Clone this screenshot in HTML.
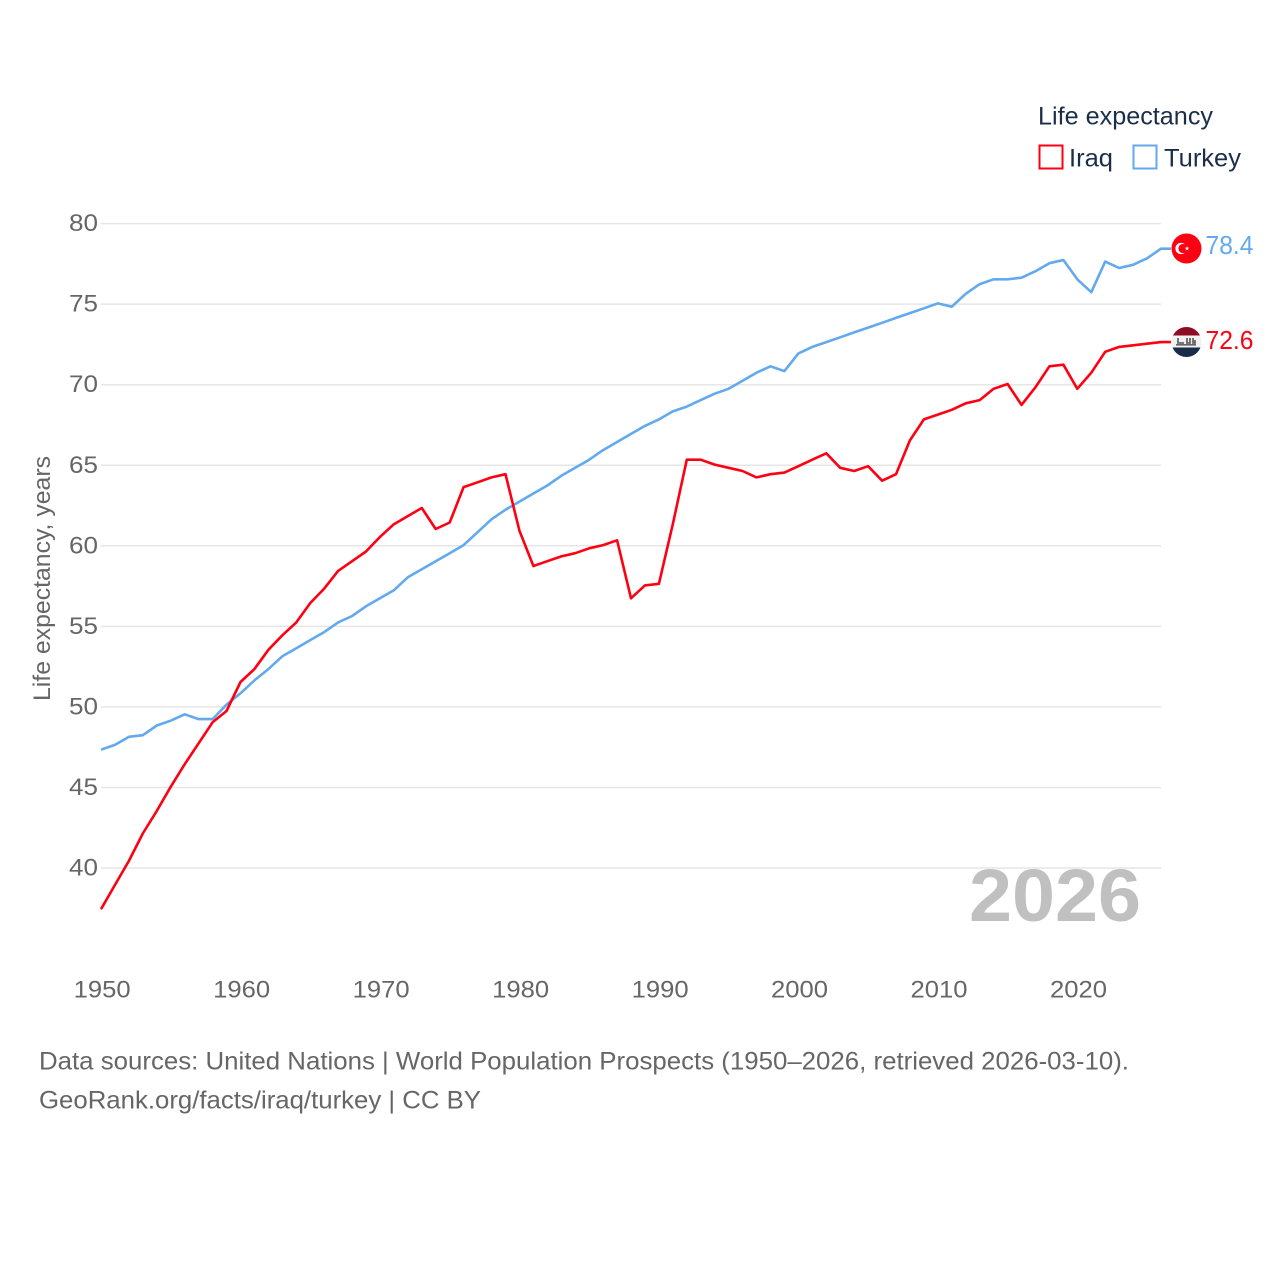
<!DOCTYPE html>
<html lang="en">
<head>
<meta charset="utf-8">
<title>Life expectancy: Iraq and Turkey</title>
<style>
html,body{margin:0;padding:0;background:#fff;width:1280px;height:1280px;overflow:hidden}
svg{display:block}
text{font-family:"Liberation Sans",sans-serif}
</style>
</head>
<body>
<svg id="chart" width="1280" height="1280" viewBox="0 0 1280 1280" xmlns="http://www.w3.org/2000/svg">
  <defs>
    <clipPath id="turkey-clip"><circle cx="1186.5" cy="248.5" r="15"></circle></clipPath>
    <clipPath id="iraq-clip"><circle cx="1186.5" cy="342" r="15"></circle></clipPath>
  </defs>
  <rect width="1280" height="1280" fill="#ffffff"></rect>
  <g id="grid"></g>
  <g id="yticks"></g>
  <g id="xticks"></g>
  <text transform="translate(50,701) rotate(-90)" font-size="24" fill="#666666" textLength="245" lengthAdjust="spacingAndGlyphs">Life expectancy, years</text>
  <text x="969" y="921" font-size="74" font-weight="bold" fill="#c0c0c0" textLength="172" lengthAdjust="spacingAndGlyphs">2026</text>
  <g id="series" transform="translate(0,-0.7)"></g>

  <g clip-path="url(#turkey-clip)">
    <rect x="1171" y="233" width="31" height="31" fill="#ff0013"></rect>
    <circle cx="1181" cy="248.5" r="5.6" fill="#ffffff"></circle>
    <circle cx="1183" cy="248.5" r="4.6" fill="#ff0013"></circle>
    <polygon points="1187,246 1187.6,247.7 1189.4,247.7 1187.9,248.8 1188.5,250.5 1187,249.5 1185.5,250.5 1186.1,248.8 1184.6,247.7 1186.4,247.7" fill="#ffffff"></polygon>
  </g>
  <g clip-path="url(#iraq-clip)">
    <rect x="1171" y="327" width="31" height="8.5" fill="#8f0d24"></rect>
    <rect x="1171" y="335.5" width="31" height="12" fill="#f1f1f1"></rect>
    <rect x="1171" y="347.5" width="31" height="10" fill="#172d4a"></rect>
    <path d="M1178 338v5h6M1187 338v5h3v-5M1193 338v5h2v-3" fill="none" stroke="#666666" stroke-width="1.8"></path>
    <rect x="1176" y="344" width="20" height="1.6" fill="#666666"></rect>
  </g>
  <g id="endlabels"></g>

  <g>
    <text x="1038" y="124.5" font-size="25" fill="#1a2e4a" textLength="175" lengthAdjust="spacingAndGlyphs">Life expectancy</text>
    <rect x="1039.5" y="145.5" width="23" height="23" fill="none" stroke="#ff0013" stroke-width="2"></rect>
    <text x="1069" y="166.5" font-size="25" fill="#1a2e4a" textLength="44" lengthAdjust="spacingAndGlyphs">Iraq</text>
    <rect x="1133.5" y="145.5" width="23" height="23" fill="none" stroke="#63a9ee" stroke-width="2"></rect>
    <text x="1164" y="166.5" font-size="25" fill="#1a2e4a" textLength="77" lengthAdjust="spacingAndGlyphs">Turkey</text>
  </g>

  <text x="39" y="1069.5" font-size="25" fill="#666666" textLength="1090" lengthAdjust="spacingAndGlyphs">Data sources: United Nations | World Population Prospects (1950–2026, retrieved 2026-03-10).</text>
  <text x="39" y="1108.5" font-size="25" fill="#666666" textLength="442" lengthAdjust="spacingAndGlyphs">GeoRank.org/facts/iraq/turkey | CC BY</text>
</svg>
<script>
const startYear = 1950;
const endYear = 2026;
const yTickValues = [40, 45, 50, 55, 60, 65, 70, 75, 80];
const xTickValues = [1950, 1960, 1970, 1980, 1990, 2000, 2010, 2020];
const iraqValues = [37.4,38.9,40.4,42.1,43.5,45.0,46.4,47.7,49.0,49.7,
  51.5,52.3,53.5,54.4,55.2,56.4,57.3,58.4,59.0,59.6,
  60.5,61.3,61.8,62.3,61.0,61.4,63.6,63.9,64.2,64.4,
  60.9,58.7,59.0,59.3,59.5,59.8,60.0,60.3,56.7,57.5,
  57.6,61.3,65.3,65.3,65.0,64.8,64.6,64.2,64.4,64.5,
  64.9,65.3,65.7,64.8,64.6,64.9,64.0,64.4,66.5,67.8,
  68.1,68.4,68.8,69.0,69.7,70.0,68.7,69.8,71.1,71.2,
  69.7,70.7,72.0,72.3,72.4,72.5,72.6];
const turkeyValues = [47.3,47.6,48.1,48.2,48.8,49.1,49.5,49.2,49.2,50.1,
  50.8,51.6,52.3,53.1,53.6,54.1,54.6,55.2,55.6,56.2,
  56.7,57.2,58.0,58.5,59.0,59.5,60.0,60.8,61.6,62.2,
  62.7,63.2,63.7,64.3,64.8,65.3,65.9,66.4,66.9,67.4,
  67.8,68.3,68.6,69.0,69.4,69.7,70.2,70.7,71.1,70.8,
  71.9,72.3,72.6,72.9,73.2,73.5,73.8,74.1,74.4,74.7,
  75.0,74.8,75.6,76.2,76.5,76.5,76.6,77.0,77.5,77.7,
  76.5,75.7,77.6,77.2,77.4,77.8,78.4];

const NS = 'http://www.w3.org/2000/svg';
const plotLeft = 101, plotRight = 1161;
const y40 = 868, pxPerYear = 16.11;
function xScale(year) { return plotLeft + (year - startYear) * (plotRight - plotLeft) / (endYear - startYear); }
function yScale(value) { return y40 - (value - 40) * pxPerYear; }

function make(tag, parentId, attrs, text) {
  const el = document.createElementNS(NS, tag);
  for (const k in attrs) el.setAttribute(k, attrs[k]);
  if (text !== undefined) el.textContent = text;
  document.getElementById(parentId).appendChild(el);
  return el;
}

yTickValues.forEach(function (v) {
  const line = make('line', 'grid', {x1: plotLeft, x2: plotRight, y1: yScale(v), y2: yScale(v), stroke: '#e6e6e6', 'stroke-width': 1.5});
  
  
  const label = make('text', 'yticks', {x: 98, y: yScale(v) + 7.5, 'text-anchor': 'end', 'font-size': 24.5, fill: '#666666', textLength: 29, lengthAdjust: 'spacingAndGlyphs'}, String(v));
  
  
});

xTickValues.forEach(function (year) {
  const label = make('text', 'xticks', {x: xScale(year) + 1.2, y: 997.5, 'text-anchor': 'middle', 'font-size': 24.5, fill: '#666666', textLength: 57, lengthAdjust: 'spacingAndGlyphs'}, String(year));
  
  
});

function drawSeries(values, color, name) {
  const pts = values.map(function (v, i) { return xScale(startYear + i).toFixed(1) + ',' + yScale(v).toFixed(1); });
  const last = values[values.length - 1];
  pts.push((plotRight + 10) + ',' + yScale(last).toFixed(1));
  const line = make('polyline', 'series', {points: pts.join(' '), fill: 'none', stroke: color, 'stroke-width': 2.6, 'stroke-linejoin': 'round'});
  
  
  const label = make('text', 'endlabels', {x: 1205.5, y: yScale(last) + (name === 'iraq' ? 6.3 : 4.6), 'font-size': 25.5, fill: color, textLength: 48, lengthAdjust: 'spacingAndGlyphs'}, last.toFixed(1));
  
  
}
drawSeries(turkeyValues, '#63a9ee', 'turkey');
drawSeries(iraqValues, '#ff0013', 'iraq');
</script>
</body>
</html>
